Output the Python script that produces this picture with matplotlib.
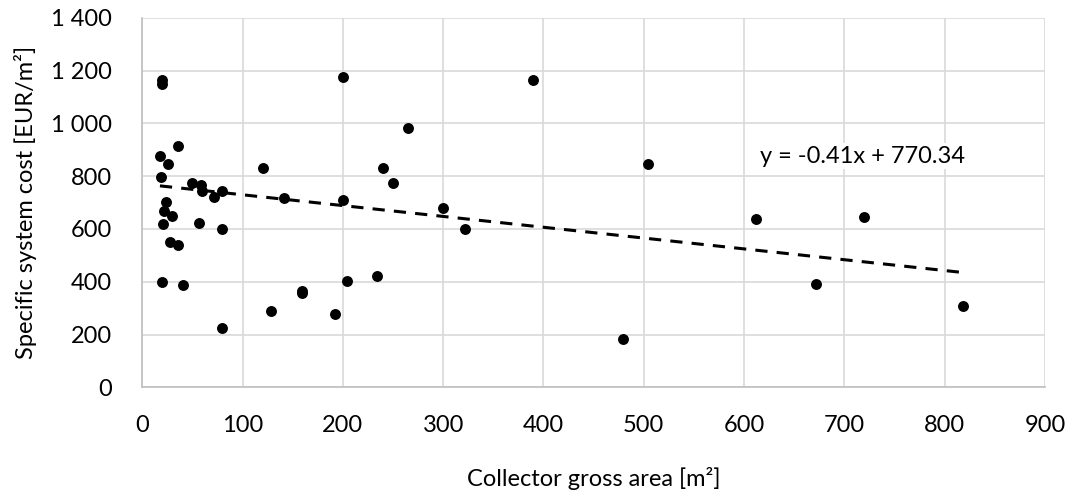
import matplotlib
matplotlib.use("Agg")
import matplotlib.pyplot as plt
from matplotlib.ticker import FuncFormatter
import numpy as np

plt.rcParams['font.family'] = ['Lato', 'DejaVu Sans']

# collector gross area [m2]
area = [20, 20, 36, 17.6, 25.6, 18.3, 49.3, 58.5, 59.2, 71.5, 79.8, 23.9,
        21.6, 29.9, 20.3, 56.8, 79.8, 27.6, 35.9, 19.9, 40.6, 79.8, 120.6,
        128, 200, 265, 240, 250, 141.3, 200, 299.5, 321.7, 233.7, 203.8,
        159.5, 159.5, 191.8, 389.8, 504, 479.6, 612, 720, 672, 818]
# specific system cost [EUR/m2]
cost = [1165, 1150, 915, 876, 845, 798, 775, 766, 744, 722, 745, 701,
        669, 650, 620, 623, 600, 552, 539, 398, 389, 225, 832,
        288, 1174, 981, 830, 775, 718, 709, 680, 601, 422, 403,
        365, 358, 276, 1164, 845, 182, 637, 644, 391, 308]

slope = -0.41
intercept = 770.34

fs = 17

fig = plt.figure(figsize=(10.73, 4.99), dpi=100)
ax = fig.add_axes([0.1326, 0.2238, 0.8413, 0.7407])

x = np.array(area)
xs = np.array([x.min(), x.max()])
ax.plot(xs, slope * xs + intercept, color='black', linestyle=(0, (4, 3)),
        linewidth=2.2, zorder=2)
ax.scatter(area, cost, s=62, color='black', zorder=3, linewidths=0)

ax.text(718, 876, 'y = -0.41x + 770.34', fontsize=fs, ha='center', va='center',
        bbox=dict(facecolor='white', edgecolor='none', pad=2), zorder=4)

ax.set_xlim(0, 900)
ax.set_ylim(0, 1400)
ax.set_xticks(np.arange(0, 901, 100))
ax.set_yticks(np.arange(0, 1401, 200))
ax.yaxis.set_major_formatter(FuncFormatter(lambda v, p: f'{int(v):,}'.replace(',', ' ')))

ax.grid(True, color='#d9d9d9', linewidth=1.2, zorder=0)
ax.set_axisbelow(True)
for s in ['top', 'right']:
    ax.spines[s].set_visible(False)
for s in ['left', 'bottom']:
    ax.spines[s].set_color('#bfbfbf')
    ax.spines[s].set_linewidth(1.2)

ax.tick_params(axis='both', length=0, labelsize=fs, colors='black')
ax.tick_params(axis='x', pad=20)
ax.tick_params(axis='y', pad=22)

ax.set_xlabel('Collector gross area [m²]', fontsize=fs, labelpad=22)
ax.set_ylabel('Specific system cost [EUR/m²]', fontsize=fs, labelpad=10)

fig.savefig('out.png', dpi=100)
